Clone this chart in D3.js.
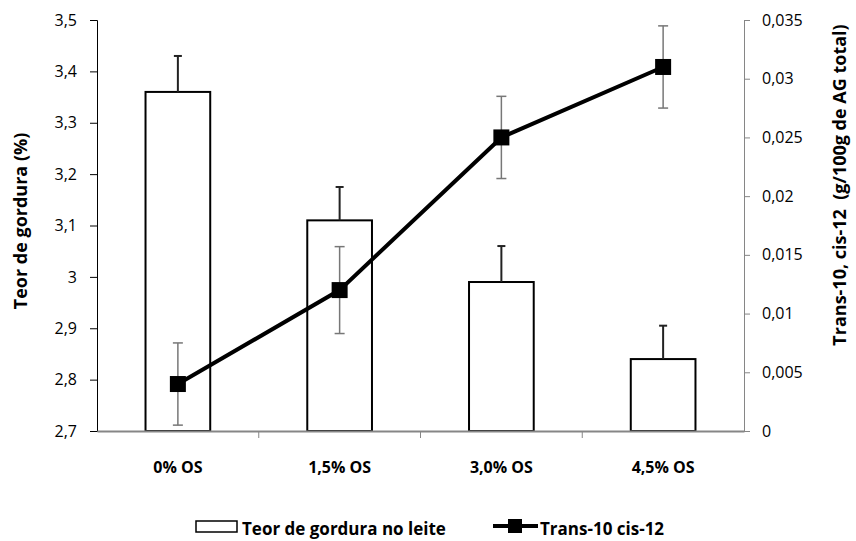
<!DOCTYPE html>
<html>
<head>
<meta charset="utf-8">
<script src="https://cdn.jsdelivr.net/npm/d3@7"></script>
<style>
  body { margin: 0; background: #fff; }
  svg text { font-family: "Open Sans", "Liberation Sans", sans-serif; fill: #000; }
</style>
</head>
<body>
<div id="chart"></div>
<script>
// data
const categories = ["0% OS", "1,5% OS", "3,0% OS", "4,5% OS"];
const fatValues = [3.36, 3.11, 2.99, 2.84];
const fatErrors = [0.07, 0.065, 0.07, 0.065];
const transValues = [0.004, 0.012, 0.025, 0.031];
const transErrors = [0.0035, 0.0037, 0.0035, 0.0035];
const leftTicks = [2.7, 2.8, 2.9, 3.0, 3.1, 3.2, 3.3, 3.4, 3.5];
const rightTicks = [0, 0.005, 0.01, 0.015, 0.02, 0.025, 0.03, 0.035];

const w = 856;
const h = 541;
const margins = { top: 20, left: 97, bottom: 110, right: 112 };
const innerWidth = w - margins.left - margins.right;
const innerHeight = h - margins.top - margins.bottom;

const comma = (v) => String(v).replace(".", ",");

const svg = d3.select("#chart").append("svg")
  .attr("width", w)
  .attr("height", h);

const g = svg.append("g")
  .attr("transform", `translate(${margins.left}, ${margins.top})`);

// scales
const xScale = d3.scaleBand().domain(categories).range([0, innerWidth]);
const yLeft = d3.scaleLinear().domain([2.7, 3.5]).range([innerHeight, 0]);
const yRight = d3.scaleLinear().domain([0, 0.035]).range([innerHeight, 0]);

const cx = (i) => xScale(categories[i]) + xScale.bandwidth() / 2;
const barW = xScale.bandwidth() * 0.4;

// bars
g.selectAll("rect.bar")
  .data(fatValues)
  .enter()
  .append("rect")
  .attr("class", "bar")
  .attr("x", (d, i) => cx(i) - barW / 2)
  .attr("y", (d) => yLeft(d))
  .attr("width", barW)
  .attr("height", (d) => innerHeight - yLeft(d))
  .attr("fill", "#fff")
  .attr("stroke", "#000")
  .attr("stroke-width", 2);

// bar error bars (upper only)
const barErr = g.selectAll("g.barerr")
  .data(fatValues)
  .enter()
  .append("g")
  .attr("stroke", "#222")
  .attr("stroke-width", 2);
barErr.append("line")
  .attr("x1", (d, i) => cx(i)).attr("x2", (d, i) => cx(i))
  .attr("y1", (d) => yLeft(d))
  .attr("y2", (d, i) => yLeft(d + fatErrors[i]));
barErr.append("line")
  .attr("x1", (d, i) => cx(i) - 4).attr("x2", (d, i) => cx(i) + 4)
  .attr("y1", (d, i) => yLeft(d + fatErrors[i]))
  .attr("y2", (d, i) => yLeft(d + fatErrors[i]));

// axes
const leftAxis = d3.axisLeft(yLeft)
  .tickValues(leftTicks)
  .tickSize(7)
  .tickPadding(13)
  .tickFormat((d) => comma(+d.toFixed(1)));
const gl = g.append("g").call(leftAxis);
gl.select(".domain").attr("stroke", "#000").attr("stroke-width", 1);
gl.selectAll(".tick line").attr("stroke", "#000");

const rightAxis = d3.axisRight(yRight)
  .tickValues(rightTicks)
  .tickSize(6)
  .tickPadding(12)
  .tickFormat((d) => comma(+d.toFixed(3)));
const gr = g.append("g")
  .attr("transform", `translate(${innerWidth}, 0)`)
  .call(rightAxis);
gr.select(".domain").attr("stroke", "#868686");
gr.selectAll(".tick line").attr("stroke", "#868686");

g.selectAll(".tick text")
  .attr("font-size", "16px")
  .attr("font-family", "'Open Sans', sans-serif")
  .attr("fill", "#222");

// bottom axis
const xAxis = d3.axisBottom(xScale).tickSize(0).tickPadding(31);
const gx = g.append("g")
  .attr("transform", `translate(0, ${innerHeight})`)
  .call(xAxis);
gx.select(".domain").attr("stroke", "#868686").attr("stroke-width", 2);
gx.selectAll(".tick text")
  .attr("font-size", "16px")
  .attr("font-weight", "bold")
  .attr("fill", "#111");
// category separators
g.selectAll("line.sep")
  .data(categories.slice(1))
  .enter()
  .append("line")
  .attr("x1", (d) => xScale(d)).attr("x2", (d) => xScale(d))
  .attr("y1", innerHeight).attr("y2", innerHeight + 7)
  .attr("stroke", "#868686");

// line error bars
const lineErr = g.selectAll("g.lineerr")
  .data(transValues)
  .enter()
  .append("g")
  .attr("stroke", "#777")
  .attr("stroke-width", 1.5);
lineErr.append("line")
  .attr("x1", (d, i) => cx(i)).attr("x2", (d, i) => cx(i))
  .attr("y1", (d, i) => yRight(d - transErrors[i]))
  .attr("y2", (d, i) => yRight(d + transErrors[i]));
lineErr.selectAll("line.cap")
  .data((d, i) => [[i, d - transErrors[i]], [i, d + transErrors[i]]])
  .enter()
  .append("line")
  .attr("x1", (d) => cx(d[0]) - 5).attr("x2", (d) => cx(d[0]) + 5)
  .attr("y1", (d) => yRight(d[1])).attr("y2", (d) => yRight(d[1]));

// line
const line = d3.line()
  .x((d, i) => cx(i))
  .y((d) => yRight(d));
g.append("path")
  .datum(transValues)
  .attr("d", line)
  .attr("fill", "none")
  .attr("stroke", "#000")
  .attr("stroke-width", 4);

g.selectAll("rect.marker")
  .data(transValues)
  .enter()
  .append("rect")
  .attr("x", (d, i) => cx(i) - 8)
  .attr("y", (d) => yRight(d) - 8)
  .attr("width", 16)
  .attr("height", 16)
  .attr("fill", "#000");

// axis titles
svg.append("text")
  .attr("transform", `translate(27, 221) rotate(-90)`)
  .attr("text-anchor", "middle")
  .attr("font-size", "18px")
  .attr("font-weight", "bold")
  .text("Teor de gordura (%)");

svg.append("text")
  .attr("transform", `translate(846, 185) rotate(-90)`)
  .attr("text-anchor", "middle")
  .attr("font-size", "18px")
  .attr("font-weight", "bold")
  .attr("xml:space", "preserve")
  .text("Trans-10, cis-12  (g/100g de AG total)");

// legend
const legend = svg.append("g");
legend.append("rect")
  .attr("x", 196).attr("y", 521)
  .attr("width", 41).attr("height", 11)
  .attr("fill", "#fff").attr("stroke", "#000").attr("stroke-width", 1.5);
legend.append("text")
  .attr("x", 242).attr("y", 535)
  .attr("font-size", "17px")
  .attr("font-weight", "bold")
  .text("Teor de gordura no leite");
legend.append("line")
  .attr("x1", 493).attr("x2", 538)
  .attr("y1", 526).attr("y2", 526)
  .attr("stroke", "#000").attr("stroke-width", 4);
legend.append("rect")
  .attr("x", 508).attr("y", 519)
  .attr("width", 14).attr("height", 14)
  .attr("fill", "#000");
legend.append("text")
  .attr("x", 540).attr("y", 535)
  .attr("font-size", "17px")
  .attr("font-weight", "bold")
  .text("Trans-10 cis-12");
</script>
</body>
</html>
